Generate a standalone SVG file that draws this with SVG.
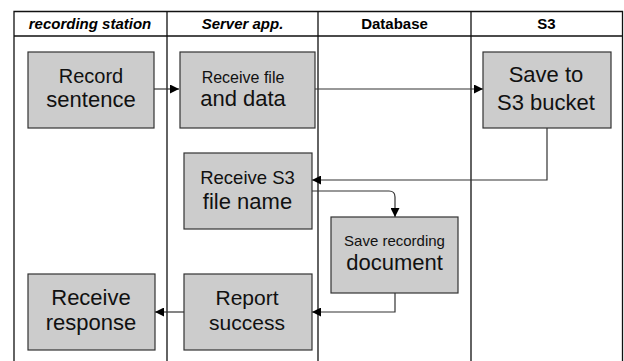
<svg xmlns="http://www.w3.org/2000/svg" width="624" height="361" viewBox="0 0 624 361">
<defs>
<marker id="arr" viewBox="0 0 10 10" refX="10" refY="5" markerWidth="9" markerHeight="9" markerUnits="userSpaceOnUse" orient="auto">
<path d="M0,0 L10,5 L0,10 z" fill="#000"/>
</marker>
</defs>
<style>
.lane{stroke:#111;stroke-width:1.3;fill:none}
.box{fill:#cccccc;stroke:#333;stroke-width:1.2}
.hd{font-family:"Liberation Sans",Arial,sans-serif;font-size:15px;font-weight:bold;text-anchor:middle;fill:#000}
.t{font-family:"Liberation Sans",Arial,sans-serif;text-anchor:middle;fill:#111}
.c{stroke:#333;stroke-width:1.2;fill:none;marker-end:url(#arr)}
</style>
<rect width="624" height="361" fill="#fff"/>
<g id="lanes">
<path class="lane" d="M14,361 V11.5 H622.5 V361 M14,36 H622.5 M167,11.5 V361 M318,11.5 V361 M471,11.5 V361"/>
<text class="hd" x="90" y="29" font-style="italic">recording station</text>
<text class="hd" x="242.5" y="29" font-style="italic">Server app.</text>
<text class="hd" x="394.5" y="29">Database</text>
<text class="hd" x="546.5" y="29">S3</text>
</g>
<g id="connectors">
<path class="c" d="M154,89 H179"/>
<path class="c" d="M315,89 H483"/>
<path class="c" d="M547,128 V180 H312"/>
<path class="c" d="M312,191 H389 Q395,191 395,197 V217"/>
<path class="c" d="M395,293 V312 H312"/>
<path class="c" d="M184,312 H155"/>
</g>
<g id="record">
<rect class="box" x="28" y="52" width="126" height="76"/>
<text class="t" x="91" y="83" font-size="20">Record</text>
<text class="t" x="91" y="107" font-size="22">sentence</text>
</g>
<g id="receive-file">
<rect class="box" x="180" y="52" width="135" height="76"/>
<text class="t" x="243" y="83" font-size="16">Receive file</text>
<text class="t" x="243" y="106" font-size="22">and data</text>
</g>
<g id="save-s3">
<rect class="box" x="483" y="52" width="128" height="76"/>
<text class="t" x="546" y="82" font-size="22">Save to</text>
<text class="t" x="546" y="110" font-size="22">S3 bucket</text>
</g>
<g id="receive-s3">
<rect class="box" x="184" y="153" width="128" height="76"/>
<text class="t" x="247.5" y="184" font-size="18.5">Receive S3</text>
<text class="t" x="247.5" y="209" font-size="22">file name</text>
</g>
<g id="save-doc">
<rect class="box" x="331" y="217" width="127" height="76"/>
<text class="t" x="394.5" y="246" font-size="15">Save recording</text>
<text class="t" x="394.5" y="270" font-size="22">document</text>
</g>
<g id="receive-response">
<rect class="box" x="28" y="274" width="127" height="76"/>
<text class="t" x="91" y="305" font-size="22">Receive</text>
<text class="t" x="91" y="330" font-size="22">response</text>
</g>
<g id="report">
<rect class="box" x="184" y="274" width="128" height="76"/>
<text class="t" x="247" y="305" font-size="21">Report</text>
<text class="t" x="247" y="330" font-size="21">success</text>
</g>
</svg>
